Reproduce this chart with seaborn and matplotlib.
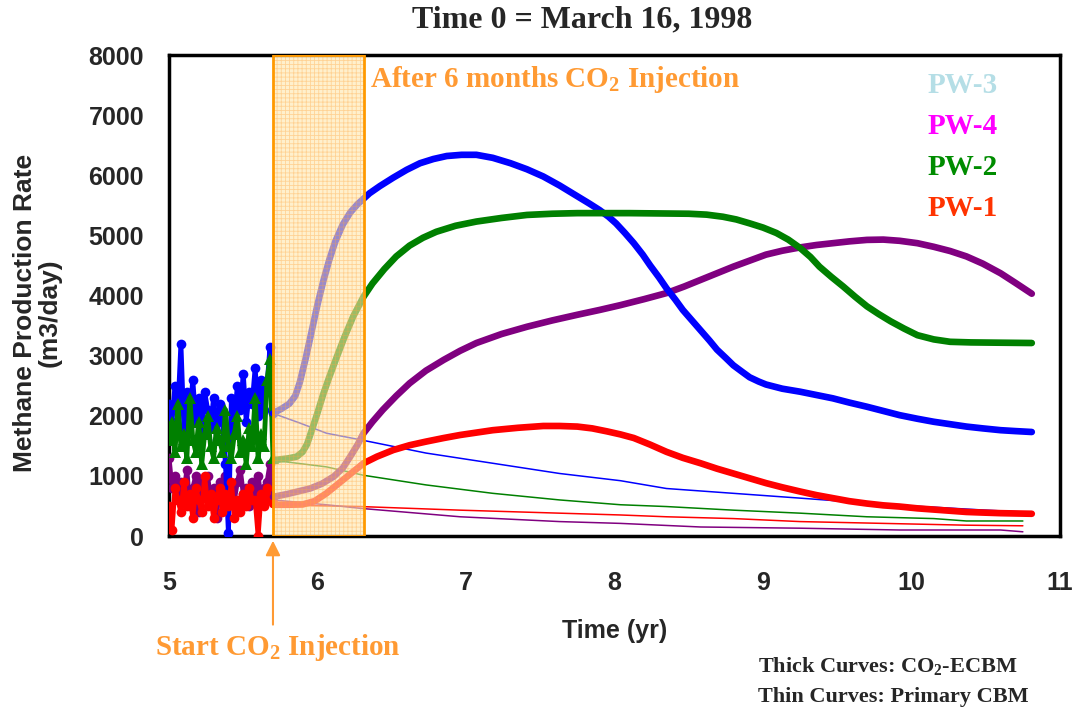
import numpy as np
import matplotlib.pyplot as plt
import seaborn as sns

sns.set_style('white')
plt.rcParams['mathtext.fontset'] = 'custom'
plt.rcParams['mathtext.rm'] = 'Liberation Serif:bold'
plt.rcParams['mathtext.it'] = 'Liberation Serif:bold'
plt.rcParams['mathtext.bf'] = 'Liberation Serif:bold'
plt.rcParams['hatch.linewidth'] = 0.6

# field history before injection (t = 5.00 .. 5.70, every 0.02 yr)
hist_t = np.round(np.arange(5.0, 5.701, 0.02), 2)
blue_hist = [2200, 1900, 2500, 2100, 3200, 1800, 2400, 2000, 2600, 1900, 2300, 1700,
             2400, 2100, 1800, 2300, 1600, 2200, 1900, 1200, 50, 2300, 1900, 2500,
             2100, 2700, 1900, 2400, 2200, 2800, 2000, 2600, 2100, 2500, 3150, 2050]
green_hist = [1600, 1900, 1400, 2200, 1500, 1700, 1300, 2300, 1600, 1400, 1900, 1200,
              1700, 2000, 1500, 1300, 1800, 1600, 1400, 2100, 1500, 1300, 1700, 2000,
              1400, 1600, 1200, 1800, 1500, 2300, 1300, 1700, 1500, 2600, 2950, 1300]
purple_hist = [1300, 800, 1000, 600, 900, 700, 1100, 500, 800, 1000, 400, 900,
               700, 1000, 600, 800, 300, 900, 700, 1000, 500, 800, 600, 900,
               1100, 700, 800, 500, 900, 700, 1000, 600, 800, 900, 1200, 650]
red_hist = [500, 100, 800, 600, 400, 900, 500, 700, 300, 800, 600, 400,
            1000, 500, 700, 300, 600, 800, 400, 700, 500, 900, 300, 600,
            400, 700, 500, 800, 600, 600, 0, 700, 500, 800, 600, 550]

# thick curves: CO2-ECBM
blue_t = [5.70, 5.76, 5.81, 5.85, 5.88, 5.92, 5.96, 6.00, 6.04, 6.08, 6.12, 6.17, 6.22,
          6.27, 6.31, 6.35, 6.42, 6.51, 6.60, 6.69, 6.78, 6.87, 6.97, 7.07, 7.18, 7.30,
          7.41, 7.52, 7.63, 7.75, 7.83, 7.90, 7.96, 8.01, 8.07, 8.13, 8.19, 8.24, 8.30,
          8.35, 8.41, 8.46, 8.52, 8.58, 8.64, 8.69, 8.75, 8.80, 8.86, 8.91, 8.97, 9.02,
          9.13, 9.25, 9.36, 9.47, 9.58, 9.70, 9.81, 9.92, 10.04, 10.15, 10.26, 10.37,
          10.48, 10.60, 10.70, 10.81]
blue_ecbm = [2040, 2120, 2200, 2330, 2550, 2950, 3400, 3850, 4250, 4600, 4900, 5180, 5380,
             5520, 5610, 5700, 5820, 5960, 6090, 6200, 6270, 6320, 6340, 6340, 6290, 6200,
             6100, 5980, 5830, 5650, 5530, 5420, 5310, 5200, 5040, 4870, 4680, 4500, 4300,
             4120, 3930, 3760, 3590, 3420, 3250, 3100, 2960, 2840, 2730, 2640, 2570, 2520,
             2450, 2400, 2345, 2290, 2220, 2150, 2080, 2010, 1950, 1900, 1860, 1820,
             1790, 1760, 1745, 1730]
green_t = [5.70, 5.80, 5.86, 5.90, 5.93, 5.96, 6.00, 6.04, 6.08, 6.13, 6.18, 6.24, 6.31,
           6.37, 6.45, 6.53, 6.62, 6.71, 6.80, 6.93, 7.07, 7.24, 7.41, 7.58, 7.75, 8.10,
           8.50, 8.62, 8.73, 8.82, 8.91, 9.00, 9.09, 9.17, 9.25, 9.32, 9.38, 9.46, 9.54,
           9.62, 9.70, 9.78, 9.86, 9.95, 10.04, 10.15, 10.26, 10.40, 10.60, 10.81]
green_ecbm = [1260, 1290, 1320, 1400, 1530, 1750, 2050, 2370, 2650, 2980, 3300, 3650, 3980,
              4200, 4440, 4650, 4830, 4960, 5060, 5160, 5230, 5290, 5340, 5360, 5370, 5370,
              5360, 5345, 5310, 5265, 5200, 5130, 5040, 4930, 4790, 4640, 4480, 4310, 4150,
              3980, 3820, 3690, 3570, 3450, 3340, 3270, 3230, 3220, 3215, 3210]
purple_t = [5.70, 5.80, 5.90, 5.95, 6.03, 6.11, 6.17, 6.22, 6.27, 6.31, 6.37, 6.44, 6.53,
            6.62, 6.73, 6.85, 6.96, 7.07, 7.24, 7.41, 7.58, 7.75, 7.90, 8.04, 8.20, 8.35,
            8.47, 8.58, 8.69, 8.80, 8.91, 9.02, 9.13, 9.25, 9.36, 9.47, 9.58, 9.70, 9.81,
            9.92, 10.04, 10.15, 10.26, 10.37, 10.48, 10.60, 10.70, 10.81]
purple_ecbm = [650, 700, 760, 790, 870, 990, 1130, 1320, 1520, 1710, 1900, 2100, 2330,
               2540, 2750, 2930, 3080, 3210, 3360, 3480, 3585, 3680, 3760, 3840, 3940, 4040,
               4150, 4260, 4370, 4480, 4580, 4680, 4745, 4800, 4840, 4870, 4900, 4925, 4930,
               4910, 4870, 4810, 4740, 4650, 4530, 4370, 4210, 4030]
red_t = [5.70, 5.80, 5.90, 5.98, 6.06, 6.13, 6.20, 6.26, 6.31, 6.40, 6.51, 6.62, 6.73,
         6.85, 6.96, 7.07, 7.18, 7.35, 7.52, 7.63, 7.75, 7.85, 7.95, 8.04, 8.13, 8.24,
         8.35, 8.46, 8.58, 8.69, 8.80, 8.91, 9.02, 9.13, 9.25, 9.36, 9.47, 9.58, 9.70,
         9.81, 9.92, 10.04, 10.15, 10.26, 10.37, 10.48, 10.60, 10.70, 10.81]
red_ecbm = [520, 520, 525, 580, 710, 850, 990, 1110, 1210, 1320, 1430, 1510, 1570,
            1630, 1680, 1720, 1760, 1800, 1830, 1830, 1820, 1790, 1740, 1690, 1630, 1520,
            1400, 1300, 1210, 1120, 1040, 960, 880, 810, 740, 680, 630, 580, 540,
            510, 490, 460, 440, 420, 400, 390, 380, 375, 370]

# thin curves: primary CBM
blue_pt = [5.70, 5.88, 6.06, 6.29, 6.73, 7.18, 7.63, 8.04, 8.35, 8.80, 9.25, 9.58, 10.0, 10.5, 10.75]
blue_prim = [2040, 1880, 1710, 1600, 1380, 1210, 1040, 920, 790, 710, 630, 570, 500, 430, 400]
green_pt = [5.70, 6.06, 6.31, 6.73, 7.18, 7.63, 8.04, 8.35, 8.80, 9.25, 9.70, 10.15, 10.37, 10.75]
green_prim = [1260, 1150, 1010, 850, 710, 600, 520, 490, 430, 380, 320, 290, 250, 250]
red_pt = [5.70, 6.29, 6.96, 7.63, 8.04, 8.35, 8.80, 9.25, 9.81, 10.37, 10.75]
red_prim = [520, 490, 430, 380, 350, 320, 290, 240, 210, 180, 170]
purple_pt = [5.70, 6.06, 6.29, 6.96, 7.63, 8.04, 8.58, 9.25, 9.92, 10.60, 10.75]
purple_prim = [600, 520, 460, 320, 240, 210, 150, 130, 100, 100, 70]

wells = ['PW-3', 'PW-4', 'PW-2', 'PW-1']
well_colors = ['#B5DEE6', '#FF00FF', '#008C00', '#FF3300']

inj_start, inj_end = 5.70, 6.31
orange = '#FF9A33'

fig = plt.figure(figsize=(10.78, 7.19), dpi=100)
ax = fig.add_axes([0.1568, 0.2545, 0.8265, 0.669])

# thin curves
for t, v, c in [(blue_pt, blue_prim, '#0000FF'), (green_pt, green_prim, '#008000'),
                (red_pt, red_prim, '#FF0000'), (purple_pt, purple_prim, '#800080')]:
    sns.lineplot(x=t, y=v, ax=ax, color=c, lw=1.1, estimator=None, zorder=2)

# noisy history
sns.lineplot(x=hist_t, y=purple_hist, ax=ax, color='#800080', lw=3.5, marker='o', ms=7,
             mew=0, estimator=None, zorder=3)
sns.lineplot(x=hist_t, y=blue_hist, ax=ax, color='#0000FF', lw=3.5, marker='o', ms=7,
             mew=0, estimator=None, zorder=3)
sns.lineplot(x=hist_t, y=green_hist, ax=ax, color='#008000', lw=3.5, marker='^', ms=8,
             mew=0, estimator=None, zorder=3)
sns.lineplot(x=hist_t, y=red_hist, ax=ax, color='#FF0000', lw=3.5, marker='o', ms=7,
             mew=0, estimator=None, zorder=3)

# thick curves
for t, v, c in [(purple_t, purple_ecbm, '#800080'), (blue_t, blue_ecbm, '#0000FF'),
                (green_t, green_ecbm, '#008000'), (red_t, red_ecbm, '#FF0000')]:
    sns.lineplot(x=t, y=v, ax=ax, color=c, lw=4.8, estimator=None, zorder=4,
                 solid_capstyle='round', solid_joinstyle='round')

# injection window
ax.axvspan(inj_start, inj_end, ymin=0, ymax=1, facecolor=(1.0, 0.9, 0.68, 0.6),
           edgecolor=(1.0, 0.65, 0.25, 0.4), hatch='++++', lw=0, zorder=5)
ax.axvspan(inj_start, inj_end, ymin=0, ymax=1, facecolor='none', edgecolor='#FF9900',
           lw=2, zorder=6)

ax.set_xlim(5, 11)
ax.set_ylim(0, 8000)
ax.set_xticks(range(5, 12))
ax.set_yticks(range(0, 8001, 1000))
for s in ax.spines.values():
    s.set_linewidth(2.5)
    s.set_color('black')
ax.tick_params(axis='both', direction='out', length=7, width=1.2, color='#444444',
               labelsize=18)
ax.tick_params(axis='x', pad=18)
ax.tick_params(axis='y', pad=11)
for lab in ax.get_xticklabels() + ax.get_yticklabels():
    lab.set_fontfamily('Liberation Sans')
    lab.set_fontweight('bold')

ax.set_xlabel('Time (yr)', fontsize=18, fontweight='bold', family='Liberation Sans')
ax.xaxis.set_label_coords(0.5, -0.172)
ax.set_ylabel('Methane Production Rate\n(m3/day)', fontsize=19, fontweight='bold',
              family='Liberation Sans', linespacing=1.05)
ax.yaxis.set_label_coords(-0.12, 0.464)

fig.text(0.54, 0.972, 'Time 0 = March 16, 1998', ha='center', va='center', fontsize=23,
         fontweight='bold', family='Liberation Serif')

for i, (w, c) in enumerate(zip(wells, well_colors)):
    ax.text(10.11, 7490 - i * 680, w, color=c, fontsize=21, fontweight='bold',
            family='Liberation Serif', va='center', ha='left')

ax.text(6.354, 7590, 'After 6 months CO$_2$ Injection', color=orange, fontsize=21,
        fontweight='bold', family='Liberation Serif', va='center', ha='left', zorder=7)

ax.annotate('', xy=(inj_start, -0.004), xycoords=('data', 'axes fraction'),
            xytext=(inj_start, -0.19), textcoords=('data', 'axes fraction'),
            arrowprops=dict(arrowstyle='-|>', color=orange, lw=1.5, mutation_scale=22),
            annotation_clip=False)
fig.text(0.258, 0.0988, 'Start CO$_2$ Injection', color=orange, fontsize=21,
         fontweight='bold', family='Liberation Serif', ha='center', va='center')

fig.text(0.703, 0.0737, 'Thick Curves: CO$_2$-ECBM', fontsize=16, fontweight='bold',
         family='Liberation Serif', ha='left', va='center')
fig.text(0.703, 0.0306, 'Thin Curves: Primary CBM', fontsize=16, fontweight='bold',
         family='Liberation Serif', ha='left', va='center')

fig.savefig('out.png', dpi=100)
